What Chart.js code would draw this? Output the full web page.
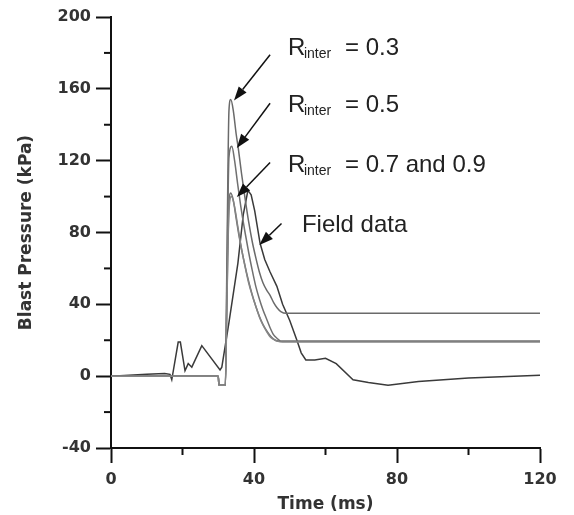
<!DOCTYPE html>
<html>
<head>
<meta charset="utf-8">
<script src="https://cdn.jsdelivr.net/npm/chart.js@4/dist/chart.umd.min.js"></script>
<style>
  html, body { margin: 0; padding: 0; background: #fff; }
  #wrap { width: 574px; height: 515px; }
</style>
</head>
<body>
<div id="wrap"><canvas id="chartBlast" width="574" height="515"></canvas></div>
<script>
// Field data (ms, kPa)
const timeField  = [0, 5, 10, 15, 16.5, 17, 18.8, 19.4, 20.7, 21.6, 22.6, 25.4, 30.5, 31, 33, 35.5, 37, 38.3, 39.2, 40.2, 41.7, 43, 44.5, 46.4, 48, 50, 52, 53.2, 54.5, 57, 60, 63, 67.7, 72, 77.5, 86, 100, 120];
const pressField = [0, 0.5, 1, 1.5, 1, -2, 19, 19, 3, 7, 5, 17, 3.5, 5, 30, 63, 90, 103.5, 101, 92, 74, 65, 58, 50, 40, 31, 20, 13, 9, 9, 10, 7, -2, -3.5, -5, -3, -1, 0.5];

// Simulations, R_inter = 0.3 / 0.5 / 0.7 / 0.9
const timeR03  = [0, 30, 30.2, 32, 32.4, 33, 33.5, 34.2, 35, 35.6, 36.5, 37.5, 38.5, 39.5, 40.5, 41.5, 42.5, 43.5, 44.5, 45.5, 46.5, 47.5, 49, 120];
const pressR03 = [0, 0, -5, -5, 60, 148, 154, 148, 135, 127, 113, 99, 86, 75, 66, 58, 52, 48, 45, 41, 38, 36, 35, 35];

const timeR05  = [0, 30, 30.2, 32, 32.4, 33, 33.8, 34.5, 35.5, 36.5, 37.5, 38.5, 39.5, 40.5, 41.5, 42.5, 43.5, 44.5, 45.5, 46.5, 47.5, 120];
const pressR05 = [0, 0, -5, -5, 50, 122, 128, 121, 106, 92, 80, 69, 59, 50, 43, 37, 32, 27, 23, 21, 19.5, 19.5];

const timeR07  = [0, 30, 30.2, 32, 32.4, 33, 33.5, 34.2, 35, 36, 37, 38, 39, 40, 41, 42, 43, 44, 45, 46, 47, 120];
const pressR07 = [0, 0, -5, -5, 40, 96, 102, 98, 88, 76, 66, 57, 49, 42, 36, 31, 27, 24, 21.5, 20, 19.5, 19.5];

const timeR09  = [0, 30, 30.2, 32, 32.4, 33, 33.7, 34.5, 35.5, 36.5, 37.5, 38.5, 39.5, 40.5, 41.5, 42.5, 43.5, 44.5, 45.5, 46.5, 48, 120];
const pressR09 = [0, 0, -5, -5, 38, 92, 100, 95, 83, 71, 61, 52, 45, 39, 33, 28.5, 25, 22, 20.5, 19.5, 19, 19];

// axis ticks
const xTicks = [0, 40, 80, 120];
const yTicks = [-40, 0, 40, 80, 120, 160, 200];

// annotations: label value, arrow tail / tip (ms, kPa), text position (ms, kPa)
const labelValues = ['0.3', '0.5', '0.7 and 0.9'];
const arrowTails = [[44.5, 179], [44.5, 152], [44.5, 119], [47.7, 85]];
const arrowTips  = [[34.4, 153.5], [35.2, 127], [35.2, 99.7], [41.5, 73]];
const textPos    = [[49.5, 178.8], [49.5, 147], [49.5, 113.6], [53.4, 80.2]];

function toPoints(xs, ys) {
    return xs.map((x, i) => ({ x: x, y: ys[i] }));
}

const tickFont = { family: 'DejaVu Sans', size: 16, weight: 'bold' };
const titleFont = { family: 'DejaVu Sans', size: 17, weight: 'bold' };

// minor ticks + arrows + labels
const extrasPlugin = {
    id: 'extras',
    afterDraw(chart) {
        const c = chart.ctx;
        const xs = chart.scales.x, ys = chart.scales.y;
        const area = chart.chartArea;
        c.save();
        c.strokeStyle = '#111';
        c.lineWidth = 2;
        // minor ticks
        for (let v = 20; v < 120; v += 40) {
            const px = xs.getPixelForValue(v);
            c.beginPath(); c.moveTo(px, area.bottom); c.lineTo(px, area.bottom + 7); c.stroke();
        }
        for (let v = -20; v < 200; v += 40) {
            const py = ys.getPixelForValue(v);
            c.beginPath(); c.moveTo(area.left - 7, py); c.lineTo(area.left, py); c.stroke();
        }

        // arrows
        c.fillStyle = '#111';
        c.lineWidth = 1.5;
        arrowTails.forEach((tail, i) => {
            const x1 = xs.getPixelForValue(tail[0]), y1 = ys.getPixelForValue(tail[1]);
            const x2 = xs.getPixelForValue(arrowTips[i][0]), y2 = ys.getPixelForValue(arrowTips[i][1]);
            const ang = Math.atan2(y2 - y1, x2 - x1);
            const hl = 14, hw = 5;
            const bx = x2 - hl * Math.cos(ang), by = y2 - hl * Math.sin(ang);
            c.beginPath(); c.moveTo(x1, y1); c.lineTo(bx, by); c.stroke();
            c.beginPath();
            c.moveTo(x2, y2);
            c.lineTo(bx + hw * Math.sin(ang), by - hw * Math.cos(ang));
            c.lineTo(bx - hw * Math.sin(ang), by + hw * Math.cos(ang));
            c.closePath(); c.fill();
        });

        // labels
        c.fillStyle = '#222';
        c.textBaseline = 'alphabetic';
        c.textAlign = 'left';
        labelValues.forEach((val, i) => {
            const x = xs.getPixelForValue(textPos[i][0]), y = ys.getPixelForValue(textPos[i][1]);
            c.font = '24px "Liberation Sans", Arial, sans-serif';
            c.fillText('R', x, y);
            c.font = '14px "Liberation Sans", Arial, sans-serif';
            c.fillText('inter', x + 16, y + 3);
            c.font = '24px "Liberation Sans", Arial, sans-serif';
            c.fillText('= ' + val, x + 57, y);
        });
        const fx = xs.getPixelForValue(textPos[3][0]), fy = ys.getPixelForValue(textPos[3][1]);
        c.font = '24px "Liberation Sans", Arial, sans-serif';
        c.fillText('Field data', fx, fy);
        c.restore();
    }
};

const lineBase = { pointRadius: 0, borderWidth: 1.5, fill: false, cubicInterpolationMode: 'monotone' };

new Chart(document.getElementById('chartBlast'), {
    type: 'line',
    data: {
        datasets: [
            { ...lineBase, label: 'R_inter = 0.9', data: toPoints(timeR09, pressR09), borderColor: '#858585' },
            { ...lineBase, label: 'R_inter = 0.7', data: toPoints(timeR07, pressR07), borderColor: '#707070' },
            { ...lineBase, label: 'R_inter = 0.5', data: toPoints(timeR05, pressR05), borderColor: '#707070' },
            { ...lineBase, label: 'R_inter = 0.3', data: toPoints(timeR03, pressR03), borderColor: '#6a6a6a' },
            { ...lineBase, label: 'Field data', data: toPoints(timeField, pressField), borderColor: '#3a3a3a', cubicInterpolationMode: 'default', tension: 0 }
        ]
    },
    options: {
        responsive: false,
        animation: false,
        layout: { padding: { top: 17, right: 34, left: 0, bottom: 0 } },
        plugins: { legend: { display: false }, tooltip: { enabled: false } },
        scales: {
            x: {
                type: 'linear', min: 0, max: 120,
                afterFit: (s) => { s.height = 67; },
                afterBuildTicks: (s) => { s.ticks = xTicks.map(v => ({ value: v })); },
                border: { display: true, color: '#111', width: 2 },
                grid: { display: true, drawOnChartArea: false, drawTicks: true, tickLength: 15, tickColor: '#111', tickWidth: 2 },
                ticks: { autoSkip: false, maxRotation: 0, padding: 7, color: '#333', font: tickFont },
                title: { display: true, text: 'Time (ms)', color: '#333', font: titleFont, padding: { top: 2, bottom: 0 } }
            },
            y: {
                type: 'linear', min: -40, max: 200,
                afterFit: (s) => { s.width = 111; },
                afterBuildTicks: (s) => { s.ticks = yTicks.map(v => ({ value: v })); },
                border: { display: true, color: '#111', width: 2 },
                grid: { display: true, drawOnChartArea: false, drawTicks: true, tickLength: 15, tickColor: '#111', tickWidth: 2 },
                ticks: { autoSkip: false, padding: 5, color: '#333', font: tickFont },
                title: { display: true, text: 'Blast Pressure (kPa)', color: '#333', font: titleFont, padding: { top: 16, bottom: 0 } }
            }
        }
    },
    plugins: [extrasPlugin]
});
</script>
</body>
</html>
